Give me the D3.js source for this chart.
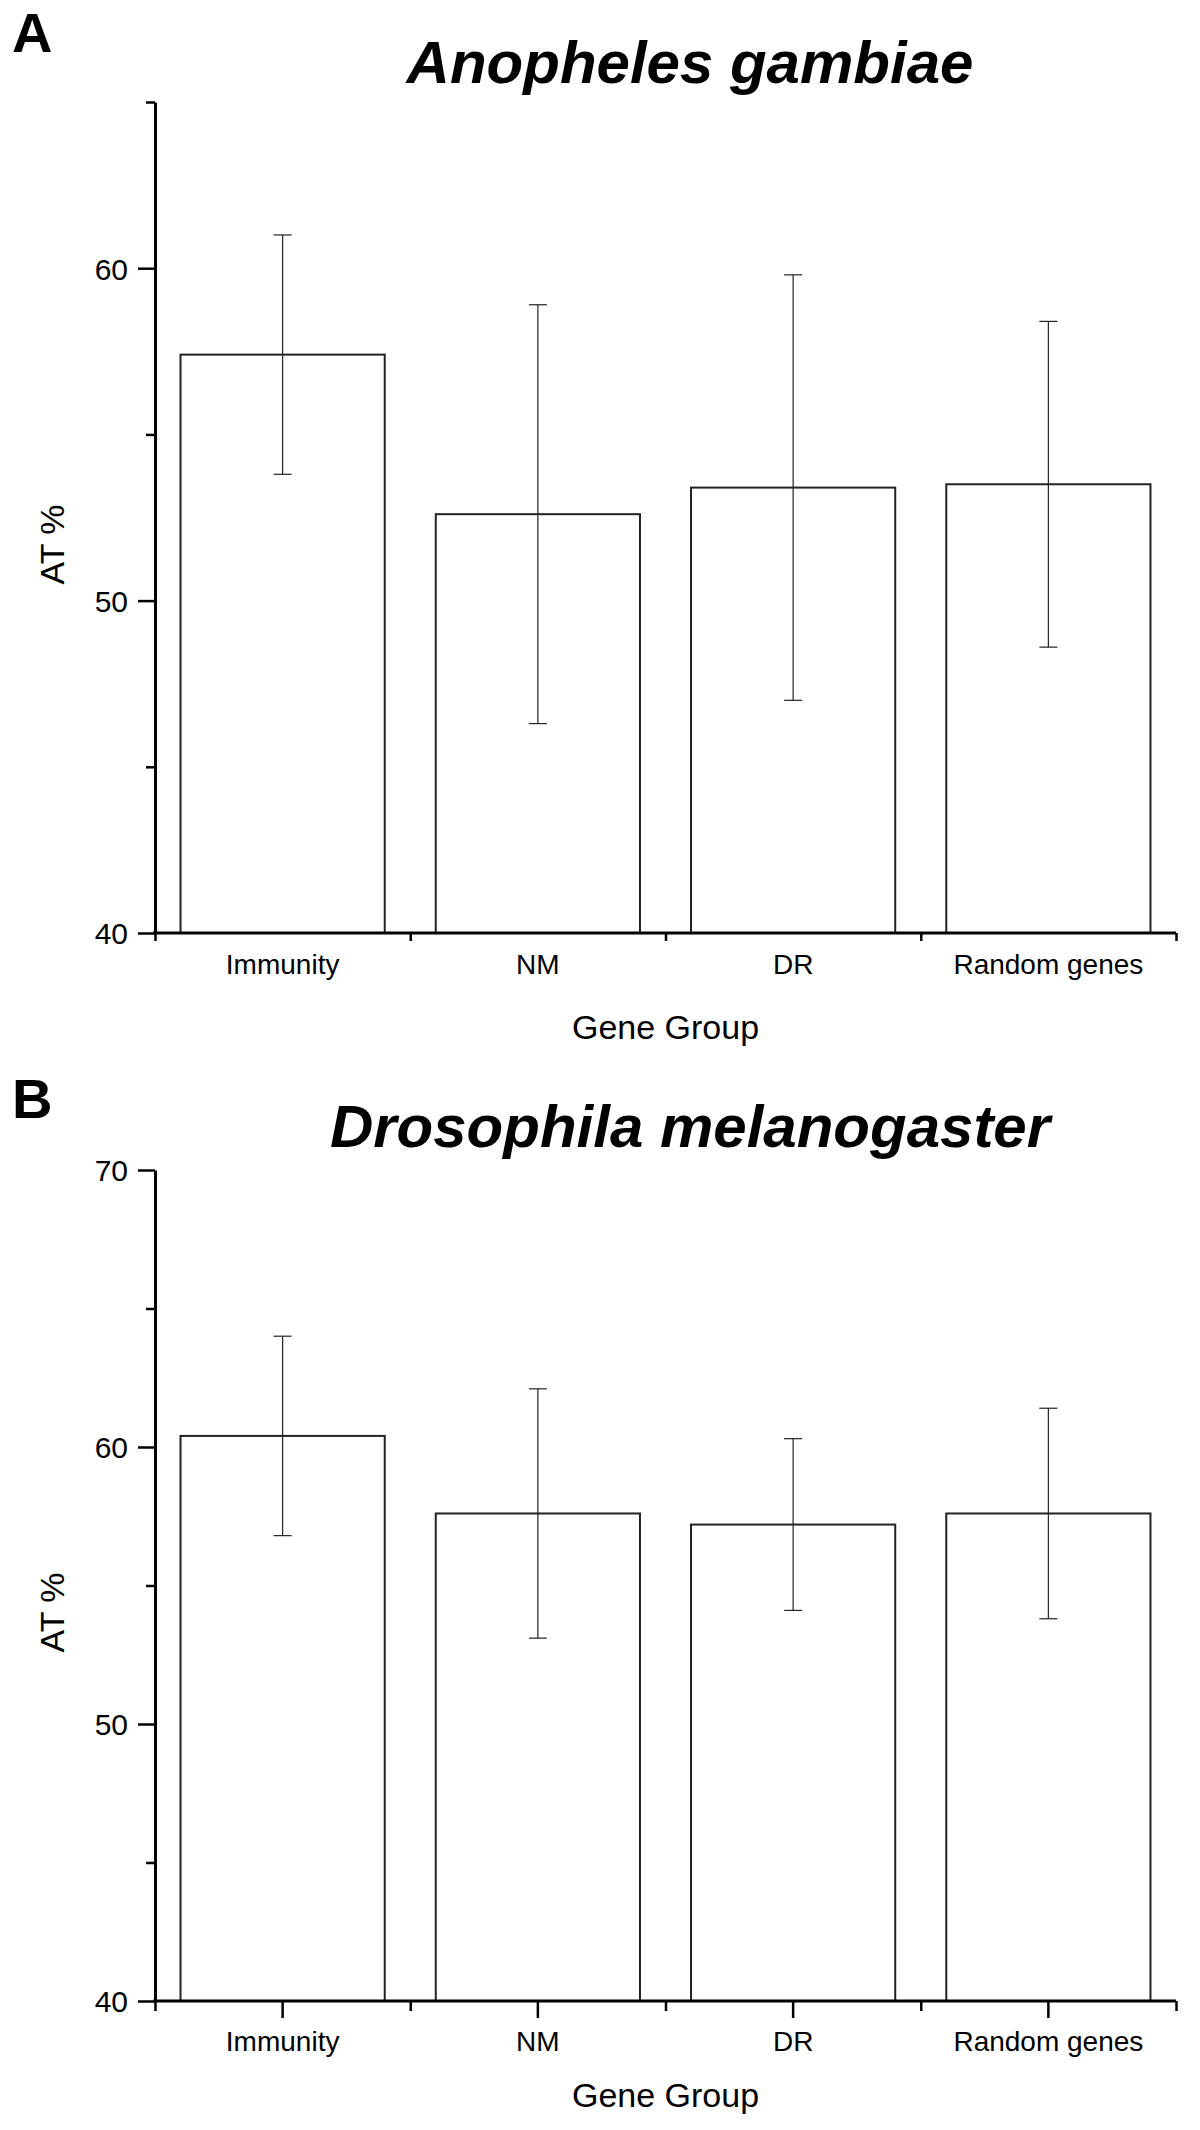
<!DOCTYPE html>
<html>
<head>
<meta charset="utf-8">
<script src="https://cdn.jsdelivr.net/npm/d3@7"></script>
<style>
  html, body { margin: 0; padding: 0; background: #fff; }
  svg { display: block; font-family: "Liberation Sans", Arial, sans-serif; }
</style>
</head>
<body>
<svg id="chart" width="1200" height="2130"></svg>
<script>
// ---- data ----
const categories = ["Immunity", "NM", "DR", "Random genes"];

const anophelesMean = [57.4, 52.6, 53.4, 53.5];
const anophelesSD   = [3.6, 6.3, 6.4, 4.9];
const anophelesMajorTicks = [40, 50, 60];
const anophelesMinorTicks = [45, 55, 65];

const drosophilaMean = [60.4, 57.6, 57.2, 57.6];
const drosophilaSD   = [3.6, 4.5, 3.1, 3.8];
const drosophilaMajorTicks = [40, 50, 60, 70];
const drosophilaMinorTicks = [45, 55, 65];

const panels = [
  { letter: "A", title: "Anopheles gambiae", mean: anophelesMean, sd: anophelesSD,
    domain: [40, 65], major: anophelesMajorTicks, minor: anophelesMinorTicks,
    top: 102, bottom: 933, letterY: 52, titleY: 83, centerTicks: false },
  { letter: "B", title: "Drosophila melanogaster", mean: drosophilaMean, sd: drosophilaSD,
    domain: [40, 70], major: drosophilaMajorTicks, minor: drosophilaMinorTicks,
    top: 1170, bottom: 2001, letterY: 1118, titleY: 1147, centerTicks: true }
];

const svg = d3.select("#chart");
const left = 155, right = 1176;

panels.forEach(p => {
  const g = svg.append("g");

  const x = d3.scaleBand().domain(categories).range([left, right])
    .paddingInner(0.2).paddingOuter(0.1);
  const y = d3.scaleLinear().domain(p.domain).range([p.bottom, p.top]);
  const xb = d3.scaleLinear().domain([0, categories.length]).range([left, right]);

  // panel letter
  g.append("text").attr("x", 12).attr("y", p.letterY)
    .attr("font-size", 56).attr("font-weight", "bold").text(p.letter);

  // title
  g.append("text").attr("x", 690).attr("y", p.titleY)
    .attr("text-anchor", "middle").attr("font-size", 60)
    .attr("font-weight", "bold").attr("font-style", "italic").text(p.title);

  // bars
  const rows = categories.map((c, i) => ({ c, m: p.mean[i], s: p.sd[i] }));
  g.selectAll("rect.bar").data(rows).join("rect")
    .attr("class", "bar")
    .attr("x", d => x(d.c)).attr("width", x.bandwidth())
    .attr("y", d => y(d.m)).attr("height", d => y(p.domain[0]) - y(d.m))
    .attr("fill", "#fff").attr("stroke", "#222").attr("stroke-width", 2);

  // error bars
  const eb = g.selectAll("g.err").data(rows).join("g").attr("class", "err")
    .attr("stroke", "#222").attr("stroke-width", 1.2);
  eb.append("line")
    .attr("x1", d => x(d.c) + x.bandwidth() / 2).attr("x2", d => x(d.c) + x.bandwidth() / 2)
    .attr("y1", d => y(d.m - d.s)).attr("y2", d => y(d.m + d.s));
  [1, -1].forEach(sign => {
    eb.append("line")
      .attr("x1", d => x(d.c) + x.bandwidth() / 2 - 9).attr("x2", d => x(d.c) + x.bandwidth() / 2 + 9)
      .attr("y1", d => y(d.m + sign * d.s)).attr("y2", d => y(d.m + sign * d.s));
  });

  // y axis (major)
  const yAxis = g.append("g").attr("transform", `translate(${left},0)`)
    .call(d3.axisLeft(y).tickValues(p.major).tickSize(17).tickSizeOuter(0).tickPadding(10)
      .tickFormat(d3.format("d")));
  yAxis.select(".domain").attr("stroke-width", 3).attr("stroke", "#000");
  yAxis.selectAll(".tick line").attr("stroke-width", 2.5);
  yAxis.selectAll(".tick text").attr("font-size", 30).attr("font-family", "Liberation Sans, Arial, sans-serif")
    .attr("dy", "0.36em");

  // y axis (minor)
  const yMinor = g.append("g").attr("transform", `translate(${left},0)`)
    .call(d3.axisLeft(y).tickValues(p.minor).tickSize(9).tickSizeOuter(0).tickFormat(""));
  yMinor.select(".domain").remove();
  yMinor.selectAll(".tick line").attr("stroke-width", 2.5);

  // x axis boundaries
  const xAxis = g.append("g").attr("transform", `translate(0,${p.bottom})`)
    .call(d3.axisBottom(xb).tickValues(d3.range(categories.length + 1))
      .tickSize(p.centerTicks ? 10 : 8).tickSizeOuter(0).tickFormat(""));
  xAxis.select(".domain").attr("stroke-width", 3).attr("stroke", "#000")
    .attr("d", `M${left - 2},0H${right}`);
  xAxis.selectAll(".tick line").attr("stroke-width", 2.5);

  // x category labels (and center ticks for panel B)
  const xLab = g.append("g").attr("transform", `translate(0,${p.bottom})`)
    .call(d3.axisBottom(x).tickSize(p.centerTicks ? 17 : 0).tickSizeOuter(0)
      .tickPadding(p.centerTicks ? 13 : 21));
  xLab.select(".domain").remove();
  xLab.selectAll(".tick line").attr("stroke-width", 2.5);
  xLab.selectAll(".tick text").attr("font-size", 28).attr("font-family", "Liberation Sans, Arial, sans-serif");

  // axis titles
  g.append("text").attr("x", (left + right) / 2).attr("y", p.bottom + 106)
    .attr("text-anchor", "middle").attr("font-size", 34).text("Gene Group");
  g.append("text")
    .attr("transform", `translate(64,${(p.top + p.bottom) / 2 + 27}) rotate(-90)`)
    .attr("text-anchor", "middle").attr("font-size", 34).text("AT %");
});
</script>
</body>
</html>
